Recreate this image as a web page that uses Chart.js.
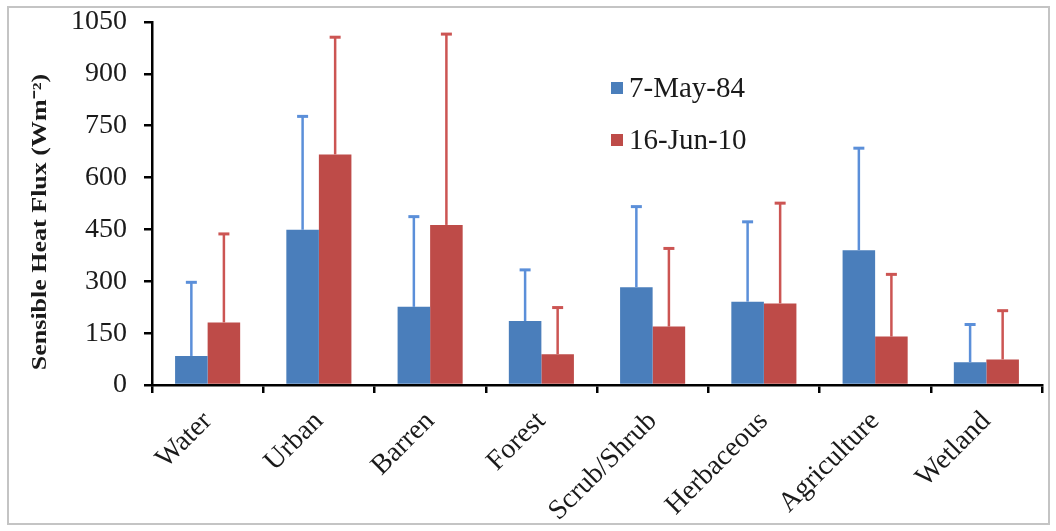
<!DOCTYPE html>
<html>
<head>
<meta charset="utf-8">
<script src="https://cdn.jsdelivr.net/npm/chart.js@4.4.1/dist/chart.umd.min.js"></script>
<style>
  html, body { margin: 0; padding: 0; background: #fff; }
  #wrap { position: relative; width: 1056px; height: 531px; }
</style>
</head>
<body>
<div id="wrap"><canvas id="c" width="1056" height="531"></canvas></div>
<script>
// Land-cover classes and mean sensible heat flux (W m^-2) for the two dates,
// with the upper standard-deviation whisker for each bar.
const categories = ['Water', 'Urban', 'Barren', 'Forest', 'Scrub/Shrub', 'Herbaceous', 'Agriculture', 'Wetland'];
const seriesNames = ['7-May-84', '16-Jun-10'];
const may84 = [84, 449, 226, 185, 283, 241, 390, 66];
const may84Err = [213, 328, 261, 148, 233, 231, 295, 109];
const jun10 = [181, 667, 463, 89, 169, 236, 140, 74];
const jun10Err = [256, 339, 552, 135, 226, 290, 180, 141];
const yTicks = [0, 150, 300, 450, 600, 750, 900, 1050];
const yTitle = 'Sensible Heat Flux (Wm\u207B\u00B2)';

const SERIF = "'Liberation Serif', 'Times New Roman', serif";

// White page with a thin grey frame
const framePlugin = {
  id: 'frame',
  beforeDraw(chart) {
    const ctx = chart.ctx;
    ctx.save();
    ctx.fillStyle = '#fff';
    ctx.fillRect(0, 0, chart.width, chart.height);
    ctx.strokeStyle = '#c4c4c4';
    ctx.lineWidth = 2;
    ctx.strokeRect(8, 7, 1041, 517);
    ctx.restore();
  }
};

// Upper error whiskers with a small cap, drawn from each bar's top
const errorBarPlugin = {
  id: 'errorBars',
  afterDatasetsDraw(chart) {
    const ctx = chart.ctx;
    const y = chart.scales.y;
    chart.data.datasets.forEach((ds, i) => {
      const meta = chart.getDatasetMeta(i);
      ctx.save();
      ctx.strokeStyle = ds.errorColor;
      meta.data.forEach((bar, j) => {
        const top = y.getPixelForValue(ds.data[j] + ds.errors[j]);
        const base = y.getPixelForValue(ds.data[j]);
        ctx.lineWidth = 2.5;
        ctx.beginPath();
        ctx.moveTo(bar.x, base);
        ctx.lineTo(bar.x, top);
        ctx.stroke();
        ctx.lineWidth = 3;
        ctx.beginPath();
        ctx.moveTo(bar.x - 5.5, top);
        ctx.lineTo(bar.x + 5.5, top);
        ctx.stroke();
      });
      ctx.restore();
    });
  }
};

// Stacked legend inside the plot area
const legendPlugin = {
  id: 'boxLegend',
  afterDraw(chart) {
    const ctx = chart.ctx;
    ctx.save();
    ctx.font = '29px ' + SERIF;
    ctx.textBaseline = 'middle';
    ctx.textAlign = 'left';
    chart.data.datasets.forEach((ds, i) => {
      const cy = 88 + i * 52;
      ctx.fillStyle = ds.backgroundColor;
      ctx.fillRect(611, cy - 6, 12, 12);
      ctx.fillStyle = '#1a1a1a';
      ctx.fillText(ds.label, 629, cy + 1);
    });
    ctx.restore();
  }
};

// Vertical axis title
const yTitlePlugin = {
  id: 'yTitle',
  afterDraw(chart) {
    const ctx = chart.ctx;
    ctx.save();
    ctx.translate(41, 222);
    ctx.rotate(-Math.PI / 2);
    ctx.scale(1.3, 1);
    ctx.font = 'bold 20px ' + SERIF;
    ctx.fillStyle = '#1a1a1a';
    ctx.textAlign = 'center';
    ctx.textBaseline = 'middle';
    ctx.fillText(yTitle, 0, 0);
    ctx.restore();
  }
};

new Chart(document.getElementById('c'), {
  type: 'bar',
  data: {
    labels: categories,
    datasets: [
      {
        label: seriesNames[0],
        data: may84,
        errors: may84Err,
        backgroundColor: '#4a7ebb',
        errorColor: '#5b8fd9',
        borderWidth: 0
      },
      {
        label: seriesNames[1],
        data: jun10,
        errors: jun10Err,
        backgroundColor: '#be4b48',
        errorColor: '#cc5553',
        borderWidth: 0
      }
    ]
  },
  options: {
    responsive: false,
    animation: false,
    devicePixelRatio: 1,
    layout: { padding: { left: 0, top: 22, right: 14, bottom: 0 } },
    datasets: {
      bar: { categoryPercentage: 0.585, barPercentage: 1.0 }
    },
    plugins: {
      legend: { display: false },
      tooltip: { enabled: false },
      title: { display: false }
    },
    scales: {
      x: {
        offset: true,
        grid: {
          offset: true,
          drawOnChartArea: false,
          drawTicks: true,
          tickLength: 8,
          color: '#000',
          lineWidth: 2.5
        },
        border: { display: true, color: '#000', width: 2.5 },
        ticks: {
          minRotation: 45,
          maxRotation: 45,
          padding: 12,
          color: '#1a1a1a',
          font: { family: SERIF, size: 28 }
        },
        afterFit(scale) {
          scale.height = 146;
          scale.paddingLeft = 0;
          scale.paddingRight = 0;
        }
      },
      y: {
        min: 0,
        max: 1050,
        afterBuildTicks(scale) { scale.ticks = yTicks.map(v => ({ value: v })); },
        grid: {
          drawOnChartArea: false,
          drawTicks: true,
          tickLength: 8,
          color: '#000',
          lineWidth: 2.5
        },
        border: { display: true, color: '#000', width: 2.5 },
        ticks: {
          padding: 17,
          color: '#1a1a1a',
          font: { family: SERIF, size: 28 },
          callback: (v) => String(v)
        },
        afterFit(scale) {
          scale.width = 152;
          scale.paddingTop = 0;
          scale.paddingBottom = 0;
        }
      }
    }
  },
  plugins: [framePlugin, errorBarPlugin, legendPlugin, yTitlePlugin]
});
</script>
</body>
</html>
